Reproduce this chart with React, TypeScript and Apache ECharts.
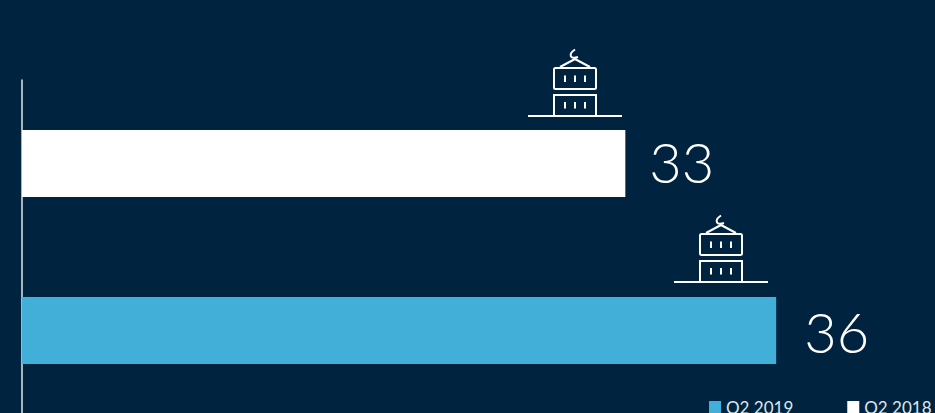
import React, { useEffect, useRef } from "react";
import * as echarts from "echarts";

const categories = ["Q2 2018", "Q2 2019"];
const values2018 = [33, null];
const values2019 = [null, 36];
const iconAnchors = [32, 34.9];
const legendNames = ["Q2 2019", "Q2 2018"];

const BG = "#00243f";
const BLUE = "#41afd7";
const WHITE = "#ffffff";
const FONT = "Lato, 'Noto Sans', sans-serif";

function renderIcon(params: any, api: any) {
  const [cx, cy] = api.coord([api.value(0), api.value(1)]);
  const style = { stroke: WHITE, fill: "none", lineWidth: 2 };
  const ticks = [-10, 0, 10].flatMap((dx) => [
    { type: "line", shape: { x1: dx, y1: -40.5, x2: dx, y2: -34 }, style },
    { type: "line", shape: { x1: dx, y1: -14, x2: dx, y2: -7.5 }, style },
  ]);
  return {
    type: "group",
    x: Math.round(cx),
    y: Math.round(cy - (params.dataIndex === 0 ? 47.5 : 48.5)),
    children: [
      { type: "line", shape: { x1: -47, y1: 0, x2: 47, y2: 0 }, style },
      { type: "polyline", shape: { points: [[-21, 0], [-21, -21], [21, -21], [21, 0]] }, style },
      { type: "rect", shape: { x: -21, y: -48, width: 42, height: 21, r: 1.5 }, style },
      { type: "polyline", shape: { points: [[-15, -49], [0, -57], [15, -49]] }, style },
      { type: "bezierCurve", shape: { x1: 0, y1: -66.5, cpx1: -7, cpy1: -62, cpx2: -5, cpy2: -56, x2: 3, y2: -59 }, style },
      ...ticks,
    ],
  };
}

export default function App() {
  const ref = useRef<HTMLDivElement>(null);
  useEffect(() => {
    document.body.style.margin = "0";
    document.body.style.background = BG;
    const chart = echarts.init(ref.current!, null, { renderer: "svg" });
    const labelBase = {
      show: true,
      position: "right",
      color: WHITE,
      fontFamily: FONT,
      fontWeight: 300,
      fontSize: 56,
    };
    chart.setOption({
      animation: false,
      backgroundColor: BG,
      grid: { left: 22, top: 80, width: 905, height: 334 },
      legend: {
        data: legendNames,
        left: 709,
        top: 398.5,
        width: 226,
        itemWidth: 12,
        itemHeight: 12,
        itemGap: 54,
        icon: "rect",
        padding: 0,
        itemStyle: { borderWidth: 0 },
        textStyle: { color: "#dfe6ea", fontFamily: FONT, fontSize: 17 },
      },
      xAxis: { type: "value", min: 21, max: 39, show: false },
      yAxis: {
        type: "category",
        data: categories,
        inverse: true,
        axisLine: { show: true, lineStyle: { color: "#dfe6ea", width: 1.5 } },
        axisTick: { show: false },
        axisLabel: { show: false },
      },
      series: [
        {
          name: "Q2 2019",
          type: "bar",
          data: values2019,
          barWidth: 67,
          barGap: "-100%",
          itemStyle: { color: BLUE },
          label: { ...labelBase, distance: 28, offset: [0, 1] },
        },
        {
          name: "Q2 2018",
          type: "bar",
          data: values2018,
          barWidth: 67,
          barGap: "-100%",
          itemStyle: { color: WHITE },
          label: { ...labelBase, distance: 24, offset: [0, -2] },
        },
        {
          name: "icons",
          type: "custom",
          clip: false,
          silent: true,
          renderItem: renderIcon,
          encode: { x: 0, y: 1 },
          data: iconAnchors.map((v, i) => [v, categories[i]]),
        },
      ],
    });
    return () => chart.dispose();
  }, []);
  return (
    <div style={{ width: 935, height: 413, overflow: "hidden" }}>
      <div ref={ref} style={{ width: 935, height: 420 }} />
    </div>
  );
}
